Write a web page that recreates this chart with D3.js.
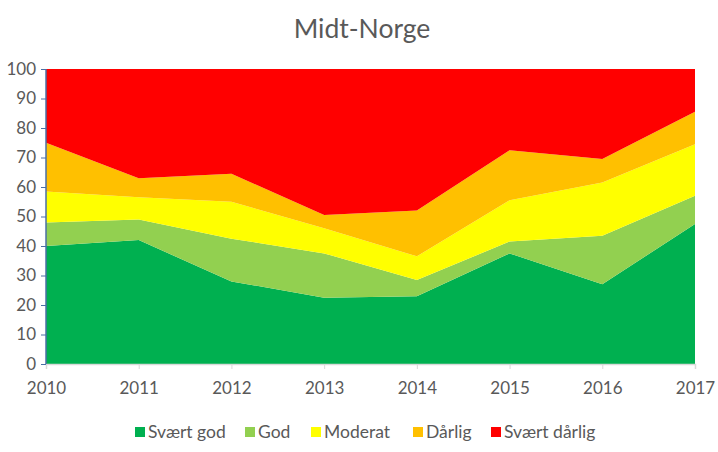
<!DOCTYPE html>
<html><head><meta charset="utf-8">
<script src="https://cdn.jsdelivr.net/npm/d3@7"></script>
<style>body{margin:0;background:#fff;}svg{display:block;font-family:Lato, "Open Sans", sans-serif;}</style>
</head><body>
<svg id="c" width="718" height="452"></svg>
<script>
const years = [2010, 2011, 2012, 2013, 2014, 2015, 2016, 2017];
const seriesNames = ["Svært god", "God", "Moderat", "Dårlig", "Svært dårlig"];
const svaertGod   = [40, 42, 28, 22.5, 23, 37.5, 27, 47.5];
const god         = [8, 7, 14.5, 15, 5.5, 4, 16.5, 9.5];
const moderat     = [10.5, 7.5, 12.5, 8.5, 8, 14, 18, 17.5];
const daarlig     = [16.5, 6.5, 9.5, 4.5, 15.5, 17, 8, 11];
const svaertDaarlig = [25, 37, 35.5, 49.5, 48, 27.5, 30.5, 14.5];
const yTicks = [0, 10, 20, 30, 40, 50, 60, 70, 80, 90, 100];
const colors = ["#00B050", "#92D050", "#FFFF00", "#FFC000", "#FF0000"];

(function(){
const seriesValues = [svaertGod, god, moderat, daarlig, svaertDaarlig];
const rows = years.map((yr, i) => {
  const r = {year: yr};
  seriesNames.forEach((n, k) => r[n] = seriesValues[k][i]);
  return r;
});
const stacked = d3.stack().keys(seriesNames)(rows);

const svg = d3.select("#c");
const mL = 46, mR = 695, mT = 69, mB = 364;
const x = d3.scaleLinear().domain([2010, 2017]).range([mL, mR]);
const y = d3.scaleLinear().domain([0, 100]).range([mB, mT]);

svg.append("text").attr("x", 362).attr("y", 38).attr("text-anchor", "middle")
  .attr("font-size", 26.5).attr("fill", "#595959").text("Midt-Norge");

const area = d3.area().x(d => x(d.data.year)).y0(d => y(d[0])).y1(d => y(d[1]));
svg.append("g").selectAll("path").data(stacked).join("path")
  .attr("d", area).attr("fill", (d, i) => colors[i]);

const xAxis = svg.append("g").attr("transform", `translate(0,${mB})`)
  .call(d3.axisBottom(x).tickValues(years).tickFormat(d3.format("d")).tickSize(5).tickPadding(13));
xAxis.select(".domain").attr("stroke", "#D9D9D9").attr("stroke-width", 1.5);
xAxis.selectAll(".tick line").attr("stroke", "#D9D9D9");
xAxis.selectAll(".tick text").attr("font-size", 17).attr("fill", "#595959").attr("font-family", "Lato, sans-serif");

const yAxis = svg.append("g").attr("transform", `translate(${mL},0)`)
  .call(d3.axisLeft(y).tickValues(yTicks).tickSize(5).tickPadding(5));
yAxis.select(".domain").attr("stroke", "#4A6FA5").attr("stroke-width", 1.5).attr("d", `M0,${mT}V${mB}`);
yAxis.selectAll(".tick line").attr("stroke", "#4A6FA5");
yAxis.selectAll(".tick text").attr("font-size", 17).attr("fill", "#595959").attr("font-family", "Lato, sans-serif");

const legendX = [135, 245, 311, 413, 491];
const lg = svg.append("g");
seriesNames.forEach((n, i) => {
  lg.append("rect").attr("x", legendX[i]).attr("y", 427).attr("width", 10).attr("height", 10).attr("fill", colors[i]);
  lg.append("text").attr("x", legendX[i] + 13).attr("y", 438).attr("font-size", 17.5)
    .attr("fill", "#595959").text(n);
});
})();
</script>
</body></html>
